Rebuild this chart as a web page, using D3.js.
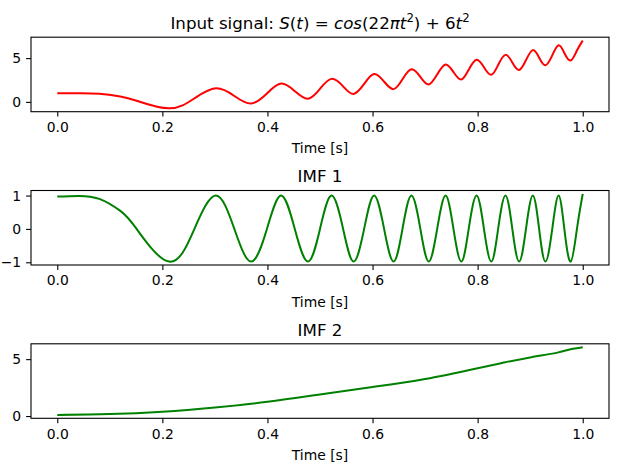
<!DOCTYPE html>
<html>
<head>
<meta charset="utf-8">
<script src="https://cdn.jsdelivr.net/npm/d3@7"></script>
<style>
  html, body { margin: 0; padding: 0; background: #fff; }
  svg { display: block; font-family: "DejaVu Sans", sans-serif; }
</style>
</head>
<body>
<svg id="chart" width="622" height="476"></svg>
<script>
// Time samples (s) read at extrema / zero crossings of the oscillation
const timePoints = [0, 0.04, 0.08, 0.12, 0.151, 0.213, 0.261, 0.302, 0.337, 0.369, 0.399, 0.426, 0.452, 0.477, 0.5, 0.522, 0.544, 0.564, 0.584, 0.603, 0.622, 0.64, 0.657, 0.674, 0.691, 0.707, 0.723, 0.739, 0.754, 0.769, 0.783, 0.798, 0.812, 0.826, 0.839, 0.853, 0.866, 0.879, 0.892, 0.905, 0.917, 0.929, 0.942, 0.954, 0.965, 0.977, 0.989, 1.0];
// Input signal S(t)
const signalValues = [1.0, 1.0, 0.94, 0.63, 0.14, -0.73, 0.41, 1.55, 0.68, -0.18, 0.96, 2.09, 1.23, 0.37, 1.5, 2.63, 1.78, 0.91, 2.05, 3.18, 2.32, 1.46, 2.59, 3.73, 2.86, 2.0, 3.14, 4.28, 3.41, 2.55, 3.68, 4.82, 3.96, 3.09, 4.22, 5.37, 4.5, 3.64, 4.77, 5.91, 5.05, 4.18, 5.32, 6.46, 5.59, 4.73, 5.87, 7.0];
// IMF 1
const imf1Values = [0.97, 0.99, 0.9, 0.54, 0, -0.98, 0, 1, 0, -0.98, 0, 1, 0, -0.98, 0, 1, 0, -0.98, 0, 1, 0, -0.98, 0, 1, 0, -0.98, 0, 1, 0, -0.98, 0, 1, 0, -0.98, 0, 1, 0, -0.98, 0, 1, 0, -0.98, 0, 1, 0, -0.98, 0, 1.05];
// IMF 2 (trend)
const trendTime = [0, 0.1, 0.2, 0.3, 0.4, 0.5, 0.6, 0.7, 0.8, 0.85, 0.9, 0.95, 0.975, 1.0];
const imf2Values = [0.1, 0.17, 0.38, 0.75, 1.25, 1.9, 2.55, 3.25, 4.2, 4.7, 5.15, 5.55, 5.85, 6.05];

const xTicks = [0, 0.2, 0.4, 0.6, 0.8, 1.0];
const yTicks1 = [0, 5];
const yTicks2 = [-1, 0, 1];
const yTicks3 = [0, 5];

const svg = d3.select("#chart");
const left = 31, right = 609, axH = 74.5;
const tops = [37.2, 190.5, 343.8];

const x = d3.scaleLinear().domain([-0.05, 1.05]).range([left, right]);

function padDomain(vals) {
  const [a, b] = d3.extent(vals);
  const m = (b - a) * 0.05;
  return [a - m, b + m];
}

function panel(top, ts, vs, color, yTicks, titleFn) {
  const g = svg.append("g");
  const y = d3.scaleLinear().domain(padDomain(vs)).range([top + axH, top]);
  const line = d3.line().x((d, i) => x(ts[i])).y(d => y(d)).curve(d3.curveNatural);
  g.append("path").datum(vs).attr("d", line)
    .attr("fill", "none").attr("stroke", color).attr("stroke-width", 2)
    .attr("stroke-linejoin", "round").attr("stroke-linecap", "butt");

  const xAxis = d3.axisBottom(x).tickValues(xTicks).tickFormat(d3.format(".1f"))
    .tickSizeOuter(0).tickSize(4.9).tickPadding(4.9);
  const xa = g.append("g").attr("transform", `translate(0,${top + axH})`).call(xAxis);
  const yAxis = d3.axisLeft(y).tickValues(yTicks).tickFormat(d => d < 0 ? "\u2212" + Math.abs(d) : d)
    .tickSizeOuter(0).tickSize(4.9).tickPadding(4.9);
  const ya = g.append("g").attr("transform", `translate(${left},0)`).call(yAxis);
  [xa, ya].forEach(a => {
    a.select(".domain").remove();
    a.selectAll("line").attr("stroke", "#000").attr("stroke-width", 1.1);
    a.selectAll("text").attr("fill", "#000").attr("font-size", 13.9)
      .attr("font-family", "DejaVu Sans, sans-serif");
  });
  xa.selectAll("text").attr("dy", "0.75em");

  g.append("rect").attr("x", left).attr("y", top).attr("width", right - left).attr("height", axH)
    .attr("fill", "none").attr("stroke", "#000").attr("stroke-width", 1.1);

  g.append("text").attr("x", (left + right) / 2).attr("y", top + axH + 41.5)
    .attr("text-anchor", "middle").attr("font-size", 13.9).text("Time [s]");

  const t = g.append("text").attr("x", (left + right) / 2).attr("y", top - 8.3)
    .attr("text-anchor", "middle").attr("font-size", 16.7);
  titleFn(t);
}

panel(tops[0], timePoints, signalValues, "#ff0000", yTicks1, t => {
  const parts = [
    ["Input signal: ", "normal", 0],
    ["S", "italic", 0], ["(", "normal", 0], ["t", "italic", 0], [")", "normal", 0],
    [" = ", "normal", 0],
    ["cos", "italic", 0], ["(22", "normal", 0], ["\u03C0t", "italic", 0],
    ["2", "normal", 1], [")", "normal", -1], [" + 6", "normal", 0], ["t", "italic", 0],
    ["2", "normal", 1]
  ];
  parts.forEach(([s, st, sup]) => {
    const ts = t.append("tspan").attr("font-style", st).text(s);
    if (sup === 1) ts.attr("dy", -6.5).attr("font-size", 11.7);
    if (sup === -1) ts.attr("dy", 6.5);
  });
});
panel(tops[1], timePoints, imf1Values, "#008000", yTicks2, t => t.text("IMF 1"));
panel(tops[2], trendTime, imf2Values, "#008000", yTicks3, t => t.text("IMF 2"));
</script>
</body>
</html>
